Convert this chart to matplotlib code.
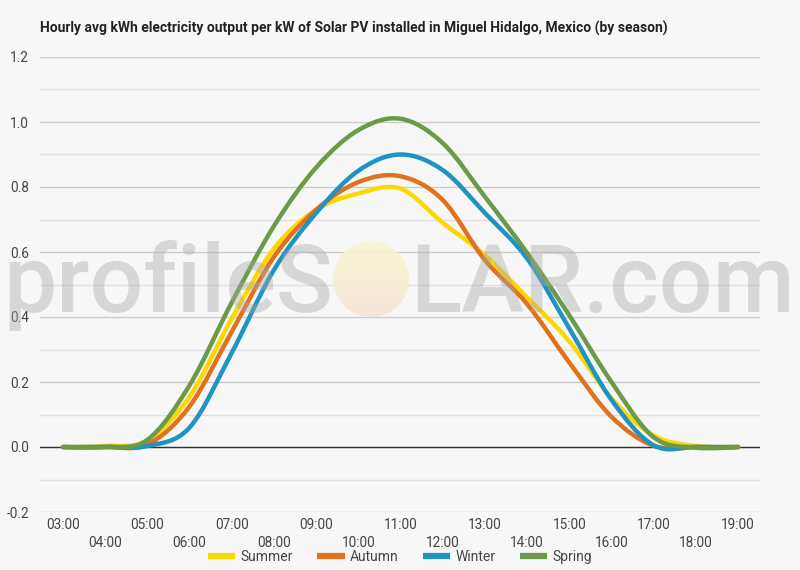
import numpy as np
import matplotlib
matplotlib.use("Agg")
import matplotlib.pyplot as plt
from matplotlib.path import Path
from matplotlib.patches import PathPatch, Ellipse
from matplotlib.lines import Line2D
from matplotlib.ticker import MultipleLocator, FixedLocator

plt.rcParams['font.family'] = ['Roboto', 'DejaVu Sans']
plt.rcParams['axes.unicode_minus'] = False

# hourly averages
hours = np.arange(3, 20)
hour_labels = ["%02d:00" % h for h in hours]
summer = [0, 0.003, 0.02, 0.155, 0.395, 0.61, 0.73, 0.78, 0.795, 0.69, 0.59, 0.46, 0.325, 0.15, 0.035, 0.003, 0]
autumn = [0, 0, 0.008, 0.125, 0.355, 0.585, 0.73, 0.815, 0.833, 0.76, 0.575, 0.44, 0.26, 0.093, 0.004, 0, 0]
winter = [0, 0, 0.003, 0.06, 0.29, 0.545, 0.72, 0.85, 0.90, 0.852, 0.72, 0.58, 0.365, 0.145, 0.005, 0, 0]
spring = [0, 0, 0.022, 0.19, 0.445, 0.68, 0.86, 0.975, 1.01, 0.935, 0.77, 0.597, 0.405, 0.2, 0.03, -0.002, 0]

series = [("Summer", summer, "#fdd800"),
          ("Autumn", autumn, "#e2711d"),
          ("Winter", winter, "#1f93c2"),
          ("Spring", spring, "#6c9a4b")]

title = "Hourly avg kWh electricity output per kW of Solar PV installed in Miguel Hidalgo, Mexico (by season)"


# smooth curve through the points, drawn as cubic bezier segments
def spline_path(x, y, smoothing=2.0):
    n = len(x)
    left, right = [], []
    for i in range(n):
        if i == 0 or i == n - 1:
            left.append((x[i], y[i]))
            right.append((x[i], y[i]))
            continue
        d = smoothing + 1
        lcx = (smoothing * x[i] + x[i - 1]) / d
        lcy = (smoothing * y[i] + y[i - 1]) / d
        rcx = (smoothing * x[i] + x[i + 1]) / d
        rcy = (smoothing * y[i] + y[i + 1]) / d
        corr = (rcy - lcy) * (rcx - x[i]) / (rcx - lcx) + y[i] - rcy
        left.append((lcx, lcy + corr))
        right.append((rcx, rcy + corr))
    verts = [(x[0], y[0])]
    codes = [Path.MOVETO]
    for i in range(1, n):
        verts += [right[i - 1], left[i], (x[i], y[i])]
        codes += [Path.CURVE4] * 3
    return Path(verts, codes)


fig = plt.figure(figsize=(8, 5.7), dpi=100, facecolor='#f7f7f7')
ax = fig.add_axes([0.05, 1 - 512 / 570, 0.9, (512 - 57) / 570])
ax.set_facecolor('none')

handles = []
for name, vals, col in series:
    p = spline_path(hours.astype(float), np.array(vals, dtype=float))
    ax.add_patch(PathPatch(p, facecolor='none', edgecolor=col, lw=3.2,
                           capstyle='round', joinstyle='round', zorder=3))
    handles.append(Line2D([], [], color=col, lw=4.5, solid_capstyle='butt'))

ax.axhline(0, color='#333333', lw=1, zorder=2.5)

# watermark (semi transparent, on top of the lines)
ax.text(333 / 800, 1 - 312 / 570, "profileS", transform=fig.transFigure, ha='right', va='baseline',
        fontsize=68, family='Roboto', fontweight='medium', color='#a8a8a8', alpha=0.4, zorder=4)
ax.text(410 / 800, 1 - 312 / 570, "LAR.com", transform=fig.transFigure, ha='left', va='baseline',
        fontsize=68, family='Roboto', fontweight='medium', color='#a8a8a8', alpha=0.4, zorder=4)
sun = Ellipse((371 / 800, 1 - 279 / 570), 76 / 800, 76 / 570, transform=fig.transFigure,
              facecolor='none', edgecolor='none')
ax.add_artist(sun)
grad = np.linspace(0, 1, 64)[:, None, None] * (np.array([245, 228, 212]) - np.array([248, 246, 205])) \
    + np.array([248, 246, 205])
im = ax.imshow(np.repeat(grad, 2, axis=1).astype(np.uint8),
               extent=[333 / 800, 409 / 800, 1 - 317 / 570, 1 - 241 / 570],
               transform=fig.transFigure, aspect='auto', zorder=4, alpha=0.85)
im.set_clip_path(sun)

ax.set_xlim(2.455, 19.52)
ax.set_ylim(-0.2, 1.2)

# y axis: labels every 0.2, grid every 0.1
ax.yaxis.set_major_locator(MultipleLocator(0.2))
ax.yaxis.set_minor_locator(MultipleLocator(0.1))
ax.yaxis.set_major_formatter(plt.FuncFormatter(lambda v, p: "%.1f" % v))
ax.grid(axis='y', which='major', color='#cccccc', lw=1)
ax.grid(axis='y', which='minor', color='#e0e0e0', lw=1)
ax.set_axisbelow(True)

# x axis: staggered labels in two rows
ax.xaxis.set_major_locator(FixedLocator(hours[::2]))
ax.xaxis.set_minor_locator(FixedLocator(hours[1::2]))
ax.set_xticklabels(hour_labels[::2])
ax.set_xticklabels(hour_labels[1::2], minor=True)
ax.tick_params(axis='x', which='major', length=0, pad=4, labelsize=9.8, labelcolor='#444444')
ax.tick_params(axis='x', which='minor', length=0, pad=17, labelsize=9.8, labelcolor='#444444')
ax.tick_params(axis='y', which='both', length=0, pad=8, labelsize=9.8, labelcolor='#444444')

for s in ax.spines.values():
    s.set_visible(False)

fig.text(40 / 800, 1 - 28 / 570, title, ha='left', va='center', fontsize=10,
         fontweight='bold', color='#222222')

fig.legend(handles, [s[0] for s in series], loc='center', bbox_to_anchor=(0.5, 1 - 557 / 570),
           ncol=4, frameon=False, fontsize=10, handlelength=2.0, handletextpad=0.4,
           columnspacing=1.7, labelcolor='#444444')

fig.savefig("out.png", dpi=100, facecolor=fig.get_facecolor())
